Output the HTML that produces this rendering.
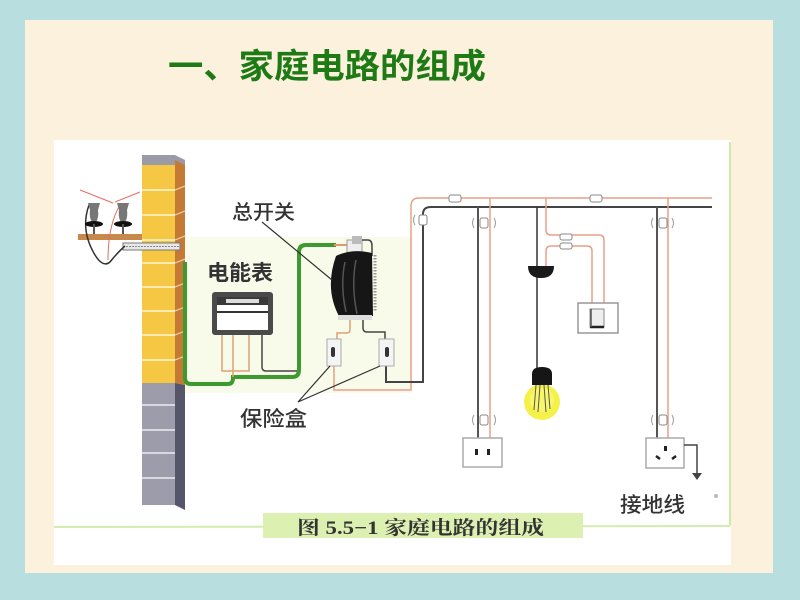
<!DOCTYPE html>
<html><head><meta charset="utf-8"><style>
html,body{margin:0;padding:0;}
body{width:800px;height:600px;overflow:hidden;background:#b9dee0;}
svg{display:block;}
</style></head><body>
<svg width="800" height="600" viewBox="0 0 800 600" xmlns="http://www.w3.org/2000/svg">
<rect x="0" y="0" width="800" height="600" fill="#b9dee0"/>
<rect x="25" y="20" width="748" height="553" fill="#fbf1dc"/>
<!-- title -->
<text x="168" y="78" font-family="'Noto Sans CJK SC','WenQuanYi Zen Hei',sans-serif" font-weight="700" font-size="34" fill="#1e7a14" textLength="318" lengthAdjust="spacingAndGlyphs">一、家庭电路的组成</text>
<!-- white figure -->
<rect x="54" y="140" width="677" height="425" fill="#ffffff"/>
<rect x="180" y="237" width="232" height="156" fill="#f8fbea"/>
<line x1="730" y1="142" x2="730" y2="526" stroke="#cdeaa8" stroke-width="2"/>
<line x1="54" y1="527" x2="730" y2="526" stroke="#d3ecb0" stroke-width="2"/>
<rect x="263" y="513" width="320" height="25" fill="#dcf0b2"/>
<text x="297" y="534" font-family="'Liberation Serif','Noto Serif CJK SC',serif" font-weight="700" font-size="19" fill="#333" textLength="247" lengthAdjust="spacingAndGlyphs">图 5.5−1  家庭电路的组成</text>

<!-- wall -->
<polygon points="142,155 175,155 185,160 185,165 142,165" fill="#9b9ba8"/>
<rect x="142" y="165" width="33" height="218" fill="#f5c743"/>
<polygon points="175,160 185,165 185,385 175,383" fill="#c47a35"/>
<g stroke="#fff6d8" stroke-width="1.5">
<line x1="142" y1="190" x2="175" y2="190"/><line x1="142" y1="215" x2="175" y2="215"/>
<line x1="142" y1="240" x2="175" y2="240"/><line x1="142" y1="263" x2="175" y2="263"/>
<line x1="142" y1="287" x2="175" y2="287"/><line x1="142" y1="311" x2="175" y2="311"/>
<line x1="142" y1="335" x2="175" y2="335"/><line x1="142" y1="360" x2="175" y2="360"/>
</g>
<g stroke="#f0d8b0" stroke-width="1">
<line x1="175" y1="190" x2="185" y2="186"/><line x1="175" y1="215" x2="185" y2="211"/>
<line x1="175" y1="240" x2="185" y2="236"/><line x1="175" y1="263" x2="185" y2="259"/>
<line x1="175" y1="287" x2="185" y2="283"/><line x1="175" y1="311" x2="185" y2="307"/>
<line x1="175" y1="335" x2="185" y2="331"/><line x1="175" y1="360" x2="185" y2="356"/>
</g>
<rect x="142" y="383" width="33" height="122" fill="#9c9cab"/>
<polygon points="175,383 185,385 185,510 175,505" fill="#56566a"/>
<g stroke="#ececf4" stroke-width="1.5">
<line x1="142" y1="405" x2="175" y2="405"/><line x1="142" y1="430" x2="175" y2="430"/>
<line x1="142" y1="453" x2="175" y2="453"/><line x1="142" y1="478" x2="175" y2="478"/>
</g>

<!-- insulators -->
<rect x="78" y="234" width="64" height="6" fill="#c8884a"/>
<rect x="123" y="243" width="57" height="7" fill="#e8e8e8" stroke="#777" stroke-width="1"/>
<line x1="123" y1="246.5" x2="180" y2="246.5" stroke="#888" stroke-width="1" stroke-dasharray="2,1"/>
<path d="M80,190 L113,203 M115,202 L140,192" stroke="#e07060" stroke-width="1" fill="none"/>
<path d="M89,205 Q80,230 95,255 Q103,268 110,262 Q118,252 125,246" stroke="#333" stroke-width="1.5" fill="none"/>
<path d="M120,205 Q108,225 108,260" stroke="#e07060" stroke-width="1" fill="none"/>
<g>
<path d="M88,203 H100 L98,210 Q99,218 96,222 H92 Q89,218 90,210 Z" fill="#777"/>
<ellipse cx="94" cy="224" rx="9" ry="3" fill="#111"/>
<rect x="93" y="224" width="2" height="10" fill="#555"/>
<path d="M117,203 H129 L127,210 Q128,218 125,222 H121 Q118,218 119,210 Z" fill="#777"/>
<ellipse cx="123" cy="224" rx="9" ry="3" fill="#111"/>
<rect x="122" y="224" width="2" height="10" fill="#555"/>
</g>

<!-- green wire -->
<path d="M185,262 V378 Q185,384 191,384 H228 Q233,384 233,378 V377 H292 Q299,377 299,370 V252 Q299,245 306,245 H336" stroke="#3d9b2e" stroke-width="4" fill="none"/>
<path d="M334,245 H350" stroke="#e09a6a" stroke-width="2" fill="none"/>

<!-- meter -->
<rect x="212" y="292" width="61" height="43" rx="3" fill="#4a4a4a"/>
<rect x="217" y="297" width="51" height="33" fill="#fff"/>
<rect x="217" y="297" width="51" height="8" fill="#3a3a3a"/>
<rect x="226" y="299" width="33" height="4" fill="#ddd"/>
<line x1="217" y1="312" x2="268" y2="312" stroke="#333" stroke-width="2"/>
<path d="M222,335 V371 H249 V335" stroke="#e0a070" stroke-width="1.5" fill="none"/>
<path d="M233,335 V377" stroke="#e0a070" stroke-width="1.5" fill="none"/>
<path d="M262,335 V367 Q262,371 266,371 H297" stroke="#444" stroke-width="1.5" fill="none"/>
<text x="207" y="280" font-family="'Noto Sans CJK SC','WenQuanYi Zen Hei',sans-serif" font-weight="700" font-size="21" fill="#333" textLength="66" lengthAdjust="spacingAndGlyphs">电能表</text>

<!-- main switch -->
<rect x="347" y="240" width="15" height="15" fill="#eee" stroke="#999" stroke-width="1"/>
<rect x="352" y="236" width="10" height="8" fill="#bbb"/>
<path d="M362,240 H368 Q372,240 372,246 V256" stroke="#444" stroke-width="1.5" fill="none"/>
<path d="M336,256 Q352,248 372,253 L373,316 L340,318 Q324,290 336,256 Z" fill="#161616"/>
<path d="M345,262 Q340,285 346,312 M356,260 Q351,285 357,314" stroke="#555" stroke-width="1.5" fill="none"/>
<line x1="375" y1="255" x2="375" y2="312" stroke="#999" stroke-width="3" stroke-dasharray="1.5,1.5"/>
<rect x="338" y="315" width="34" height="5" fill="#ddd"/>
<line x1="262" y1="222" x2="332" y2="280" stroke="#333" stroke-width="1.2"/>
<text x="232" y="219" font-family="'Noto Sans CJK SC','WenQuanYi Zen Hei',sans-serif" font-weight="500" font-size="20" fill="#333" textLength="63" lengthAdjust="spacingAndGlyphs">总开关</text>

<!-- fuse wires -->
<path d="M350,320 V330 Q350,333 346,333 H337 V339" stroke="#e0a070" stroke-width="1.5" fill="none"/>
<path d="M363,320 V328 Q363,332 367,332 H385 V339" stroke="#444" stroke-width="1.5" fill="none"/>
<path d="M334,366 V390 H411 V206 Q411,198 419,198 H712" stroke="#e9a088" stroke-width="1.5" fill="none"/>
<path d="M386,366 V382 H423 V214 Q423,207 431,207 H712" stroke="#444" stroke-width="2" fill="none"/>
<rect x="327" y="339" width="14" height="27" fill="#f4f4f4" stroke="#aaa" stroke-width="1"/>
<rect x="331" y="347" width="4" height="10" rx="2" fill="#333"/>
<rect x="379" y="339" width="15" height="27" fill="#f4f4f4" stroke="#aaa" stroke-width="1"/>
<rect x="385" y="347" width="4" height="10" rx="2" fill="#333"/>
<path d="M298,402 L330,366 M298,402 L380,366" stroke="#333" stroke-width="1.2" fill="none"/>
<text x="240" y="426" font-family="'Noto Sans CJK SC','WenQuanYi Zen Hei',sans-serif" font-weight="500" font-size="21" fill="#333" textLength="67" lengthAdjust="spacingAndGlyphs">保险盒</text>

<!-- branches -->
<path d="M478,207 V438" stroke="#555" stroke-width="2" fill="none"/>
<path d="M490,198 V438" stroke="#e9a088" stroke-width="1.5" fill="none"/>
<path d="M657,207 V438" stroke="#555" stroke-width="2" fill="none"/>
<path d="M668,198 V438" stroke="#e9a088" stroke-width="1.5" fill="none"/>
<path d="M537,207 V370" stroke="#333" stroke-width="1.5" fill="none"/>
<path d="M546,198 V230 Q546,235 551,235 H599 Q604,235 604,240 V303" stroke="#e9a088" stroke-width="1.5" fill="none"/>
<path d="M546,268 V251 Q546,246 551,246 H587 Q592,246 592,251 V303" stroke="#e9a088" stroke-width="1.5" fill="none"/>

<!-- clips -->
<g stroke="#888" stroke-width="1" fill="#fff">
<rect x="449" y="195" width="12" height="7" rx="2"/>
<rect x="590" y="195" width="12" height="7" rx="2"/>
<rect x="560" y="234" width="12" height="6" rx="2"/>
<rect x="560" y="243" width="12" height="6" rx="2"/>
<rect x="419" y="215" width="8" height="10" rx="2"/>
<rect x="480" y="218" width="8" height="10" rx="2"/>
<rect x="659" y="218" width="8" height="10" rx="2"/>
<rect x="480" y="415" width="8" height="10" rx="2"/>
<rect x="659" y="415" width="8" height="10" rx="2"/>
</g>
<g stroke="#999" stroke-width="1" fill="none">
<path d="M474,218 q-3,5 0,10 M494,218 q3,5 0,10"/>
<path d="M653,218 q-3,5 0,10 M672,218 q3,5 0,10"/>
<path d="M474,415 q-3,5 0,10 M494,415 q3,5 0,10"/>
<path d="M653,415 q-3,5 0,10 M672,415 q3,5 0,10"/>
<path d="M415,215 q-3,5 0,10"/>
</g>

<!-- ceiling rose -->
<path d="M528,266 H554 Q554,278 541,278 Q528,278 528,266 Z" fill="#1a1a1a"/>
<!-- wall switch -->
<rect x="578" y="303" width="40" height="30" fill="#fff" stroke="#999" stroke-width="1.5"/>
<rect x="590" y="309" width="14" height="18" fill="#eee" stroke="#888" stroke-width="1"/>
<path d="M590,327 H604" stroke="#222" stroke-width="2.5"/>
<path d="M591,309 V327" stroke="#555" stroke-width="1.5"/>

<!-- bulb -->
<circle cx="542" cy="402" r="18" fill="#f2ef2a" opacity="0.85"/>
<circle cx="542" cy="400" r="12" fill="#f8f66a"/>
<path d="M532,385 V374 Q532,367 542,367 Q552,367 552,374 V385 Z" fill="#161616"/>
<path d="M536,385 L534,410 M540,385 L538,412 M544,385 L546,412 M548,385 L550,409" stroke="#555" stroke-width="1" fill="none"/>

<!-- sockets -->
<rect x="463" y="438" width="39" height="29" fill="#fff" stroke="#aaa" stroke-width="1.5"/>
<rect x="475" y="449" width="3" height="6" fill="#222"/>
<rect x="487" y="449" width="3" height="6" fill="#222"/>
<rect x="646" y="438" width="38" height="30" fill="#fff" stroke="#aaa" stroke-width="1.5"/>
<rect x="664" y="446" width="3" height="5" fill="#222"/>
<path d="M656,456 l4,3" stroke="#222" stroke-width="2.5"/>
<path d="M676,456 l-4,3" stroke="#222" stroke-width="2.5"/>
<path d="M684,445 H697 V474" stroke="#444" stroke-width="1.5" fill="none"/>
<path d="M692,473 H702 L697,480 Z" fill="#444"/>
<text x="620" y="512" font-family="'Noto Sans CJK SC','WenQuanYi Zen Hei',sans-serif" font-weight="500" font-size="21" fill="#333" textLength="65" lengthAdjust="spacingAndGlyphs">接地线</text>
<circle cx="716" cy="496" r="2" fill="#bbb"/>
</svg>
</body></html>
